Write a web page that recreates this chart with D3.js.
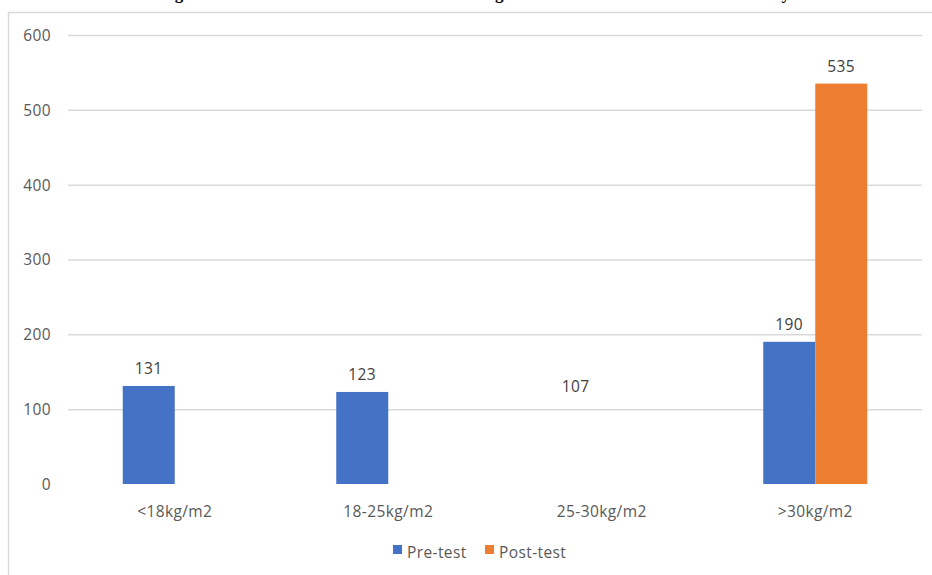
<!DOCTYPE html>
<html lang="en">
<head>
<meta charset="utf-8">
<script src="https://cdn.jsdelivr.net/npm/d3@7"></script>
<title>BMI pre/post test</title>
<style>
  html, body { margin: 0; padding: 0; background: #fff; }
  svg text { font-family: "Open Sans", sans-serif; letter-spacing: 0.4px; }
</style>
</head>
<body>
<div id="container"></div>
<script>
// data
const categories = ["<18kg/m2", "18-25kg/m2", "25-30kg/m2", ">30kg/m2"];
const preTest = [131, 123, 107, 190];
const postTest = [null, null, null, 535];
const yTicks = [0, 100, 200, 300, 400, 500, 600];
const seriesNames = ["Pre-test", "Post-test"];
// the 25-30 pre-test bar has a label but no visible bar in the source
const barVisible = [true, true, false, true];

const W = 932, H = 575;
const plotL = 68, plotR = 922, plotT = 35, plotB = 484;
const colors = ["#4472c4", "#ed7d31"];
const FS = "15.5px";

const svg = d3.select("#container").append("svg").attr("width", W).attr("height", H);

// title sits above the picture, only its descenders show
svg.append("text")
   .attr("x", 84).attr("y", -1)
   .style("font-family", "'Liberation Serif', serif").style("letter-spacing", "0px")
   .style("font-weight", "bold").style("font-size", "17px")
   .attr("fill", "#000")
   .text("Table 3: Weight of Students Before and After the Training Sessions in Relation to their Own Body Mass Index");

// chart frame
svg.append("rect").attr("x", 8.5).attr("y", 12.5).attr("width", 1000).attr("height", 1000)
   .attr("fill", "none").attr("stroke", "#d9d9d9").attr("stroke-width", 1.5);

const x = d3.scaleBand().domain(categories).range([plotL, plotR]);
const y = d3.scaleLinear().domain([0, 600]).range([plotB, plotT]);
const barW = 52;

// gridlines (no line at zero)
svg.append("g").selectAll("line")
   .data(yTicks.filter(d => d > 0))
   .enter().append("line")
   .attr("x1", plotL).attr("x2", plotR)
   .attr("y1", d => y(d) + 0.5).attr("y2", d => y(d) + 0.5)
   .attr("stroke", "#d9d9d9").attr("stroke-width", 1.5);

// y axis labels
const yAxis = d3.axisLeft(y).tickValues(yTicks).tickSize(0).tickPadding(0);
const gy = svg.append("g").attr("transform", "translate(51,0)").call(yAxis);
gy.select(".domain").remove();
gy.selectAll("text").style("font-family", "'Open Sans', sans-serif")
  .style("font-size", FS).attr("fill", "#595959").attr("dy", "0.35em");

// x axis labels
const xAxis = d3.axisBottom(x).tickSize(0).tickPadding(0);
const gx = svg.append("g").attr("transform", "translate(0,512)").call(xAxis);
gx.select(".domain").remove();
gx.selectAll("text").style("font-family", "'Open Sans', sans-serif")
  .style("font-size", FS).attr("fill", "#595959").attr("dy", "0.35em");

// pre-test bars
const pre = categories.map((c, i) => ({c, v: preTest[i], show: barVisible[i]}));
svg.append("g").selectAll("rect")
   .data(pre.filter(d => d.show))
   .enter().append("rect")
   .attr("x", d => x(d.c) + x.bandwidth() / 2 - barW)
   .attr("y", d => y(d.v))
   .attr("width", barW)
   .attr("height", d => y(0) - y(d.v))
   .attr("fill", colors[0]);
svg.append("g").selectAll("text")
   .data(pre)
   .enter().append("text")
   .attr("x", d => x(d.c) + x.bandwidth() / 2 - barW / 2)
   .attr("y", d => y(d.v) - 12)
   .attr("text-anchor", "middle")
   .style("font-size", FS).attr("fill", "#404040")
   .text(d => d.v);

// post-test bars
const post = categories.map((c, i) => ({c, v: postTest[i]})).filter(d => d.v != null);
svg.append("g").selectAll("rect")
   .data(post)
   .enter().append("rect")
   .attr("x", d => x(d.c) + x.bandwidth() / 2)
   .attr("y", d => y(d.v))
   .attr("width", barW)
   .attr("height", d => y(0) - y(d.v))
   .attr("fill", colors[1]);
svg.append("g").selectAll("text")
   .data(post)
   .enter().append("text")
   .attr("x", d => x(d.c) + x.bandwidth() / 2 + barW / 2)
   .attr("y", d => y(d.v) - 12)
   .attr("text-anchor", "middle")
   .style("font-size", FS).attr("fill", "#404040")
   .text(d => d.v);

// legend
const legendX = [393, 485];
const legend = svg.append("g");
seriesNames.forEach((s, i) => {
  legend.append("rect").attr("x", legendX[i]).attr("y", 545).attr("width", 9).attr("height", 9)
        .attr("fill", colors[i]);
  legend.append("text").attr("x", legendX[i] + 14).attr("y", 558)
        .style("font-size", FS).attr("fill", "#595959").text(s);
});
</script>
</body>
</html>
